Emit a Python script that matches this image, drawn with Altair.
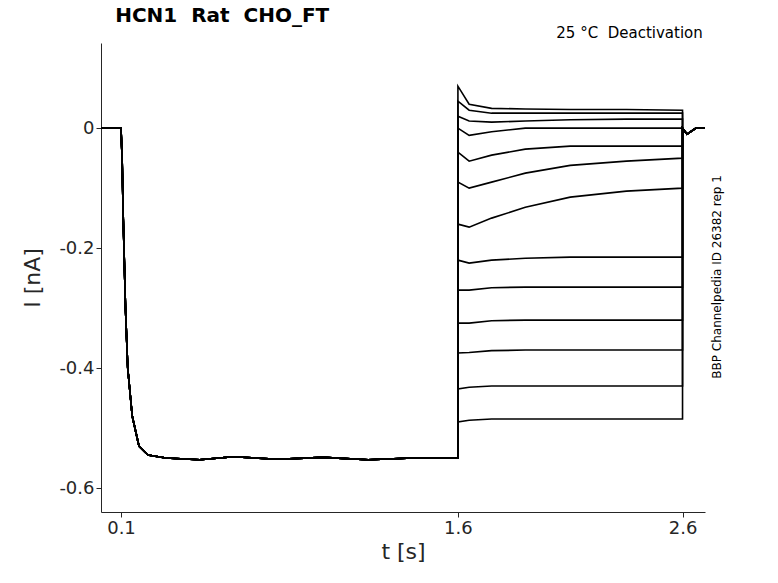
import altair as alt
import pandas as pd

# activation part (shared by all sweeps)
t_pre = [0.011, 0.05, 0.1, 0.105, 0.11, 0.12, 0.13, 0.15, 0.18, 0.22, 0.3, 0.45, 0.6, 0.8, 1.0, 1.2, 1.4, 1.6]
i_pre = [0.0, 0.0, 0.0, -0.05, -0.15, -0.3, -0.4, -0.48, -0.53, -0.545, -0.55, -0.553, -0.548, -0.552, -0.549, -0.553, -0.55, -0.55]

# deactivation part
t_post = [1.6, 1.65, 1.75, 1.9, 2.1, 2.35, 2.6]
sweeps = [
    [0.07, 0.04, 0.033, 0.032, 0.031, 0.031, 0.03],
    [0.045, 0.03, 0.025, 0.025, 0.025, 0.025, 0.025],
    [0.02, 0.012, 0.01, 0.012, 0.014, 0.015, 0.015],
    [0.0, -0.012, -0.006, 0.0, 0.0, 0.0, 0.0],
    [-0.04, -0.055, -0.045, -0.035, -0.03, -0.03, -0.03],
    [-0.09, -0.1, -0.09, -0.075, -0.062, -0.055, -0.05],
    [-0.16, -0.165, -0.15, -0.132, -0.115, -0.105, -0.1],
    [-0.22, -0.225, -0.22, -0.217, -0.215, -0.215, -0.215],
    [-0.27, -0.27, -0.266, -0.265, -0.265, -0.265, -0.265],
    [-0.325, -0.325, -0.321, -0.32, -0.32, -0.32, -0.32],
    [-0.375, -0.374, -0.371, -0.37, -0.37, -0.37, -0.37],
    [-0.435, -0.432, -0.43, -0.43, -0.43, -0.43, -0.43],
    [-0.49, -0.487, -0.485, -0.485, -0.485, -0.485, -0.485],
]
t_tail = [2.6, 2.62, 2.66, 2.7]
i_tail = [0.0, -0.01, 0.0, 0.0]

rows = []
for k, s in enumerate(sweeps):
    n = 0
    for t, v in zip(t_pre + t_post + t_tail, i_pre + s + i_tail):
        rows.append({"sweep": k, "n": n, "t": t, "i": v})
        n += 1
df = pd.DataFrame(rows)

x_scale = alt.Scale(domain=[0.011, 2.7], nice=False, zero=False)
y_scale = alt.Scale(domain=[-0.64, 0.142], nice=False, zero=False)
fix_minus = "replace(datum.label, '\u2212', '-')"

lines = alt.Chart(df).mark_line(color="black", strokeWidth=1.6).encode(
    x=alt.X("t:Q", scale=x_scale, title="t [s]",
            axis=alt.Axis(values=[0.1, 1.6, 2.6], format=".1f", grid=False)),
    y=alt.Y("i:Q", scale=y_scale, title="I [nA]",
            axis=alt.Axis(values=[0, -0.2, -0.4, -0.6], format="~g", grid=False,
                          labelExpr=fix_minus)),
    detail="sweep:N",
    order="n:Q",
)

nb = "\u00a0"
texts = pd.DataFrame({
    "t": [2.69, 0.074],
    "i": [0.146, 0.17],
    "s": ["25 °C" + nb * 2 + "Deactivation", "HCN1" + nb * 2 + "Rat" + nb * 2 + "CHO_FT"],
    "w": ["normal", "bold"],
    "a": ["right", "left"],
})
note = alt.Chart(texts.iloc[[0]]).mark_text(align="right", baseline="bottom", fontSize=15,
                                            font="DejaVu Sans", clip=False).encode(
    x=alt.X("t:Q", scale=x_scale), y=alt.Y("i:Q", scale=y_scale), text="s:N")
title = alt.Chart(texts.iloc[[1]]).mark_text(align="left", baseline="bottom", fontSize=20,
                                             fontWeight="bold", font="DejaVu Sans",
                                             clip=False).encode(
    x=alt.X("t:Q", scale=x_scale), y=alt.Y("i:Q", scale=y_scale), text="s:N")

ids = pd.DataFrame({"t": [2.755], "i": [-0.248], "s": ["BBP Channelpedia ID 26382 rep 1"]})
idtext = alt.Chart(ids).mark_text(angle=270, fontSize=12, font="DejaVu Sans",
                                  clip=False).encode(
    x=alt.X("t:Q", scale=x_scale), y=alt.Y("i:Q", scale=y_scale), text="s:N")

chart = (lines + note + title + idtext).properties(
    width=604, height=469,
    autosize=alt.AutoSizeParams(type="none"),
    padding={"left": 93, "top": 35, "right": 50, "bottom": 55},
).configure_axis(
    labelFontSize=18, titleFontSize=22, labelFont="DejaVu Sans", titleFont="DejaVu Sans",
    titleFontWeight="normal", labelColor="#262626", titleColor="#262626",
    domainColor="#262626", tickColor="#262626",
).configure_axisX(titlePadding=4).configure_axisY(titlePadding=14).configure_view(stroke=None)

chart.save("out.html", embed_options={"renderer": "svg", "actions": False})
